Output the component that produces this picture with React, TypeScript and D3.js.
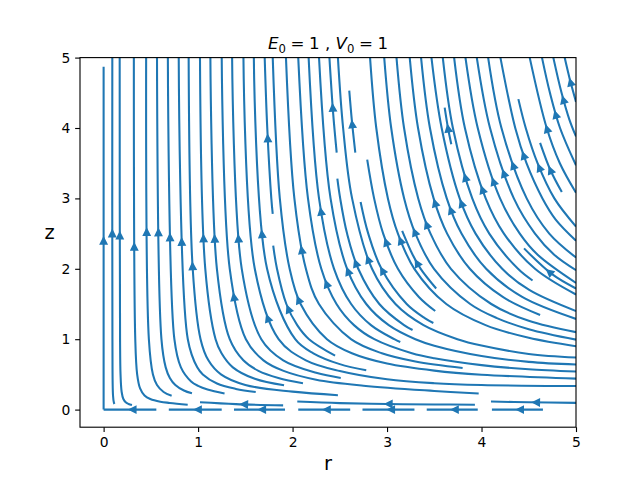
import React, { useEffect, useRef } from "react";
import * as d3 from "d3";

type Pt = [number, number];

// ---- axes ----
const rDomain: Pt = [-0.25, 5];
const zDomain: Pt = [-0.25, 5];
const rTicks = [0, 1, 2, 3, 4, 5];
const zTicks = [0, 1, 2, 3, 4, 5];
const xLabel = "r";
const yLabel = "z";

// ---- streamlines; each listed downstream end first ----
const axisStream: Pt[] = [[0, 4.87], [0, 0]];

const wallStreams: Pt[][] = [
  [[0, 0], [0.558, 0]],
  [[0.69, 0], [1.25, 0]],
  [[1.38, 0], [1.92, 0]],
  [[2.06, 0], [2.61, 0]],
  [[2.74, 0], [3.29, 0]],
  [[3.42, 0], [3.96, 0]],
  [[4.11, 0], [4.65, 0]],
];

const nearWallStreams: Pt[][] = [
  [[1.02, 0.104], [1.4, 0.078], [1.9, 0.06]],
  [[2.05, 0.114], [2.5, 0.092], [3.0, 0.08], [3.5, 0.073], [3.93, 0.07]],
  [[4.1, 0.114], [4.5, 0.104], [5, 0.095]],
];

const topStreams: Pt[][] = [
  [[0.092, 5], [0.0932, 1], [0.0995, 0.2], [0.1087, 0.1], [0.114, 0.08]],
  [[0.17, 5], [0.174, 1], [0.179, 0.5], [0.191, 0.25], [0.209, 0.15], [0.237, 0.1], [0.264, 0.08], [0.3, 0.065]],
  [[0.32, 5], [0.335, 1], [0.355, 0.5], [0.386, 0.3], [0.433, 0.2], [0.494, 0.15], [0.6, 0.112], [0.7, 0.095], [0.89, 0.07]],
  [[0.45, 5], [0.479, 1], [0.522, 0.5], [0.565, 0.35], [0.635, 0.25], [0.72, 0.196]],
  [[0.565, 5], [0.612, 1], [0.657, 0.6], [0.701, 0.45], [0.759, 0.35], [0.85, 0.271], [0.935, 0.231]],
  [[0.68, 5], [0.749, 1], [0.818, 0.6], [0.926, 0.4], [1.0, 0.337], [1.1, 0.285], [1.28, 0.23]],
  [[0.795, 5], [0.891, 1], [0.991, 0.6], [1.05, 0.5], [1.2, 0.37], [1.4, 0.294], [1.61, 0.25]],
  [[0.9, 5], [0.943, 2], [1.026, 1], [1.109, 0.7], [1.242, 0.5], [1.5, 0.35], [2.0, 0.255], [2.48, 0.205]],
  [[1.02, 5], [1.076, 2], [1.185, 1], [1.248, 0.8], [1.368, 0.6], [1.6, 0.437], [1.91, 0.345]],
  [[1.13, 5], [1.199, 2], [1.335, 1], [1.479, 0.7], [1.639, 0.55], [1.85, 0.449], [2.11, 0.375]],
  [[1.25, 5], [1.335, 2], [1.506, 1], [1.692, 0.7], [1.905, 0.55], [2.25, 0.425], [2.75, 0.34], [3.5, 0.265], [3.97, 0.228]],
  [[1.36, 5], [1.462, 2], [1.669, 1], [1.901, 0.7], [2.25, 0.523], [2.51, 0.45]],
  [[1.48, 5], [1.6, 2], [1.852, 1], [2.141, 0.7], [2.5, 0.548], [3, 0.43], [3.5, 0.375], [4, 0.35], [5, 0.335]],
  [[1.59, 5], [1.73, 2], [2.028, 1], [2.22, 0.8], [2.5, 0.646], [2.78, 0.56]],
  [[1.705, 5], [1.732, 4], [1.775, 3], [1.79, 2.78]],
  [[1.79, 5], [1.865, 3], [1.969, 2], [2.085, 1.5], [2.364, 1], [2.628, 0.8], [3, 0.654], [3.5, 0.554], [4, 0.496], [5, 0.44]],
  [[1.93, 5], [2.019, 3], [2.141, 2], [2.279, 1.5], [2.618, 1], [2.945, 0.8], [3.3, 0.683], [3.8, 0.59]],
  [[2.06, 5], [2.163, 3], [2.304, 2], [2.465, 1.5], [2.65, 1.2], [2.865, 1], [3.263, 0.8], [3.5, 0.729], [4, 0.632], [4.5, 0.573], [5, 0.54]],
  [[2.17, 5], [2.28, 3], [2.439, 2], [2.62, 1.5], [2.83, 1.2], [3.077, 1], [3.14, 0.96]],
  [[2.28, 5], [2.402, 3], [2.577, 2], [2.78, 1.5], [3.018, 1.2], [3.3, 1], [3.5, 0.908], [4, 0.762], [4.5, 0.678], [5, 0.64]],
  [[2.39, 5], [2.43, 4.2], [2.467, 3.65]],
  [[2.48, 5], [2.535, 4], [2.63, 3], [2.841, 2], [3.089, 1.5], [3.386, 1.2], [3.745, 1], [4, 0.909], [4.5, 0.791], [5, 0.74]],
  [[2.82, 5], [2.886, 4], [3.009, 3], [3.115, 2.5], [3.289, 2], [3.627, 1.5], [4.043, 1.2], [4.5, 1.02], [5, 0.9]],
  [[2.97, 5], [3.044, 4], [3.181, 3], [3.3, 2.5], [3.497, 2], [3.88, 1.5], [4.163, 1.3], [4.5, 1.142], [5, 0.994]],
  [[3.1, 5], [3.18, 4], [3.33, 3], [3.46, 2.5], [3.676, 2], [4.103, 1.5], [4.5, 1.261], [5, 1.1]],
  [[3.24, 5], [3.328, 4], [3.493, 3], [3.636, 2.5], [3.876, 2], [4.225, 1.6], [4.62, 1.344]],
  [[3.36, 5], [3.454, 4], [3.632, 3], [3.788, 2.5], [4.049, 2], [4.43, 1.6], [5, 1.288]],
  [[3.47, 5], [3.578, 4], [3.769, 3], [3.937, 2.5], [4.219, 2], [4.505, 1.7], [5, 1.4]],
  [[3.59, 5], [3.697, 4], [3.902, 3], [4.082, 2.5], [4.386, 2], [4.54, 1.834]],
  [[3.71, 5], [3.824, 4], [4.044, 3], [4.237, 2.5], [4.566, 2], [5, 1.635]],
  [[3.83, 5], [3.96, 4], [4.196, 3], [4.405, 2.5], [4.594, 2.2], [5, 1.8]],
  [[3.95, 5], [4.09, 4], [4.342, 3], [4.566, 2.5], [4.769, 2.2], [5, 1.98]],
  [[4.07, 5], [4.211, 4], [4.478, 3], [4.717, 2.5], [5, 2.16]],
  [[4.2, 5], [4.357, 4], [4.476, 3.5], [4.645, 3], [4.785, 2.7], [5, 2.4]],
  [[4.51, 5], [4.69, 4], [4.829, 3.5], [5, 3.08]],
  [[4.64, 5], [4.724, 4.5], [4.831, 4], [5, 3.47]],
  [[4.76, 5], [4.847, 4.5], [4.93, 4.12], [5, 3.88]],
  [[4.88, 5], [4.933, 4.7], [5, 4.37]],
];

const innerStreams: Pt[][] = [
  [[1.795, 2.33], [1.835, 2], [1.934, 1.5], [2.049, 1.2], [2.174, 1], [2.45, 0.766]],
  [[2.474, 3.28], [2.504, 3], [2.577, 2.5], [2.695, 2], [2.918, 1.5], [3.18, 1.2], [3.27, 1.13]],
  [[2.72, 2.95], [2.801, 2.5], [2.941, 2], [3.208, 1.5], [3.399, 1.3], [3.49, 1.23]],
  [[2.79, 3.55], [2.863, 3], [2.959, 2.5], [3.115, 2], [3.337, 1.6], [3.51, 1.4]],
  [[3.16, 2.54], [3.271, 2.2], [3.356, 2], [3.52, 1.72]],
  [[4.45, 2.29], [4.75, 1.92], [5, 1.72]],
  [[4.39, 4.41], [4.468, 4], [4.593, 3.5], [4.771, 3], [5, 2.6]],
  [[4.62, 3.79], [4.73, 3.4], [4.85, 3.09]],
  [[2.6, 4.53], [2.628, 4.1], [2.664, 3.65]],
  [[3.61, 4.29], [3.645, 4.0], [3.68, 3.77]],
];

const BLUE = "#1f77b4";
const FONT = "DejaVu Sans, sans-serif";

export default function App() {
  const ref = useRef<SVGSVGElement | null>(null);

  useEffect(() => {
    if (!ref.current) return;
    const svg = d3.select(ref.current);
    svg.selectAll("*").remove();

    const left = 80, right = 576, top = 57.6, bottom = 427.2;
    const x = d3.scaleLinear().domain(rDomain).range([left, right]);
    const y = d3.scaleLinear().domain(zDomain).range([bottom, top]);

    svg.append("rect").attr("width", 640).attr("height", 480).attr("fill", "#fff");
    svg.append("defs").append("clipPath").attr("id", "plot-clip")
      .append("rect").attr("x", left).attr("y", top)
      .attr("width", right - left).attr("height", bottom - top);

    const plot = svg.append("g").attr("clip-path", "url(#plot-clip)");
    const lineGen = d3.line<Pt>()
      .x((d) => x(d[0]))
      .y((d) => y(d[1]))
      .curve(d3.curveCatmullRom.alpha(0.5));

    const streams: Pt[][] = [axisStream, ...wallStreams, ...nearWallStreams, ...topStreams, ...innerStreams];
    const arrows: { x: number; y: number; a: number }[] = [];

    streams.forEach((pts) => {
      const path = plot.append("path")
        .attr("d", lineGen(pts) as string)
        .attr("fill", "none")
        .attr("stroke", BLUE)
        .attr("stroke-width", 2.08);
      const node = path.node() as SVGPathElement;
      const L = node.getTotalLength();
      const N = 300;
      const px: { x: number; y: number }[] = [];
      for (let i = 0; i <= N; i++) {
        const p = node.getPointAtLength((L * i) / N);
        px.push({ x: p.x, y: p.y });
      }
      const cum = [0];
      for (let i = 1; i <= N; i++) {
        const dr = x.invert(px[i].x) - x.invert(px[i - 1].x);
        const dz = y.invert(px[i].y) - y.invert(px[i - 1].y);
        cum.push(cum[i - 1] + Math.hypot(dr, dz));
      }
      const half = cum[N] / 2;
      let k = 1;
      while (k < N && cum[k] < half) k++;
      const seg = cum[k] - cum[k - 1] || 1;
      const t = (half - cum[k - 1]) / seg;
      const hx = px[k - 1].x + t * (px[k].x - px[k - 1].x);
      const hy = px[k - 1].y + t * (px[k].y - px[k - 1].y);
      // flow runs toward the first listed point
      const a = Math.atan2(px[k - 1].y - px[k].y, px[k - 1].x - px[k].x);
      arrows.push({ x: hx, y: hy, a });
    });

    const hl = 5.56, hw = 2.78;
    plot.selectAll("path.arrow")
      .data(arrows)
      .enter()
      .append("path")
      .attr("class", "arrow")
      .attr("d", `M0,0 L${-hl},${hw} L${-hl},${-hw} Z`)
      .attr("transform", (d) => `translate(${d.x},${d.y}) rotate(${(d.a * 180) / Math.PI})`)
      .attr("fill", BLUE)
      .attr("stroke", BLUE)
      .attr("stroke-width", 2.08)
      .attr("stroke-linejoin", "miter");

    // axes
    const xAxis = d3.axisBottom(x).tickValues(rTicks).tickFormat(d3.format("d"))
      .tickSize(4.86).tickSizeOuter(0).tickPadding(4.86);
    const yAxis = d3.axisLeft(y).tickValues(zTicks).tickFormat(d3.format("d"))
      .tickSize(4.86).tickSizeOuter(0).tickPadding(4.86);

    const gx = svg.append("g").attr("transform", `translate(0,${bottom})`).call(xAxis);
    const gy = svg.append("g").attr("transform", `translate(${left},0)`).call(yAxis);
    [gx, gy].forEach((g) => {
      g.select(".domain").remove();
      g.selectAll(".tick line").attr("stroke", "#000").attr("stroke-width", 1.11);
      g.selectAll(".tick text").attr("fill", "#000").attr("font-family", FONT).attr("font-size", 13.89);
    });

    svg.append("rect")
      .attr("x", left).attr("y", top)
      .attr("width", right - left).attr("height", bottom - top)
      .attr("fill", "none").attr("stroke", "#000").attr("stroke-width", 1.11);

    svg.append("text").attr("x", (left + right) / 2).attr("y", 470)
      .attr("text-anchor", "middle").attr("font-family", FONT).attr("font-size", 19.44)
      .attr("fill", "#000").text(xLabel);
    svg.append("text").attr("x", 49.5).attr("y", 238.5)
      .attr("text-anchor", "middle").attr("font-family", FONT).attr("font-size", 19.44)
      .attr("fill", "#000").text(yLabel);

    // title  E_0 = 1 , V_0 = 1
    const title = svg.append("text").attr("y", 49.3).attr("font-family", FONT)
      .attr("font-size", 16.67).attr("fill", "#000");
    const base = 49.3, sub = 52.9;
    const pieces: { t: string; x: number; it?: boolean; s?: boolean }[] = [
      { t: "E", x: 267.9, it: true },
      { t: "0", x: 278.4, s: true },
      { t: "=", x: 290.4 },
      { t: "1", x: 309.0 },
      { t: ",", x: 324.9 },
      { t: "V", x: 335.5, it: true },
      { t: "0", x: 346.9, s: true },
      { t: "=", x: 358.9 },
      { t: "1", x: 377.5 },
    ];
    pieces.forEach((p) => {
      title.append("tspan")
        .attr("x", p.x)
        .attr("y", p.s ? sub : base)
        .attr("font-style", p.it ? "italic" : "normal")
        .attr("font-size", p.s ? 11.67 : 16.67)
        .text(p.t);
    });
  }, []);

  return (
    <svg
      ref={ref}
      width={640}
      height={480}
      style={{ position: "absolute", left: 0, top: 0, background: "#fff" }}
    />
  );
}
